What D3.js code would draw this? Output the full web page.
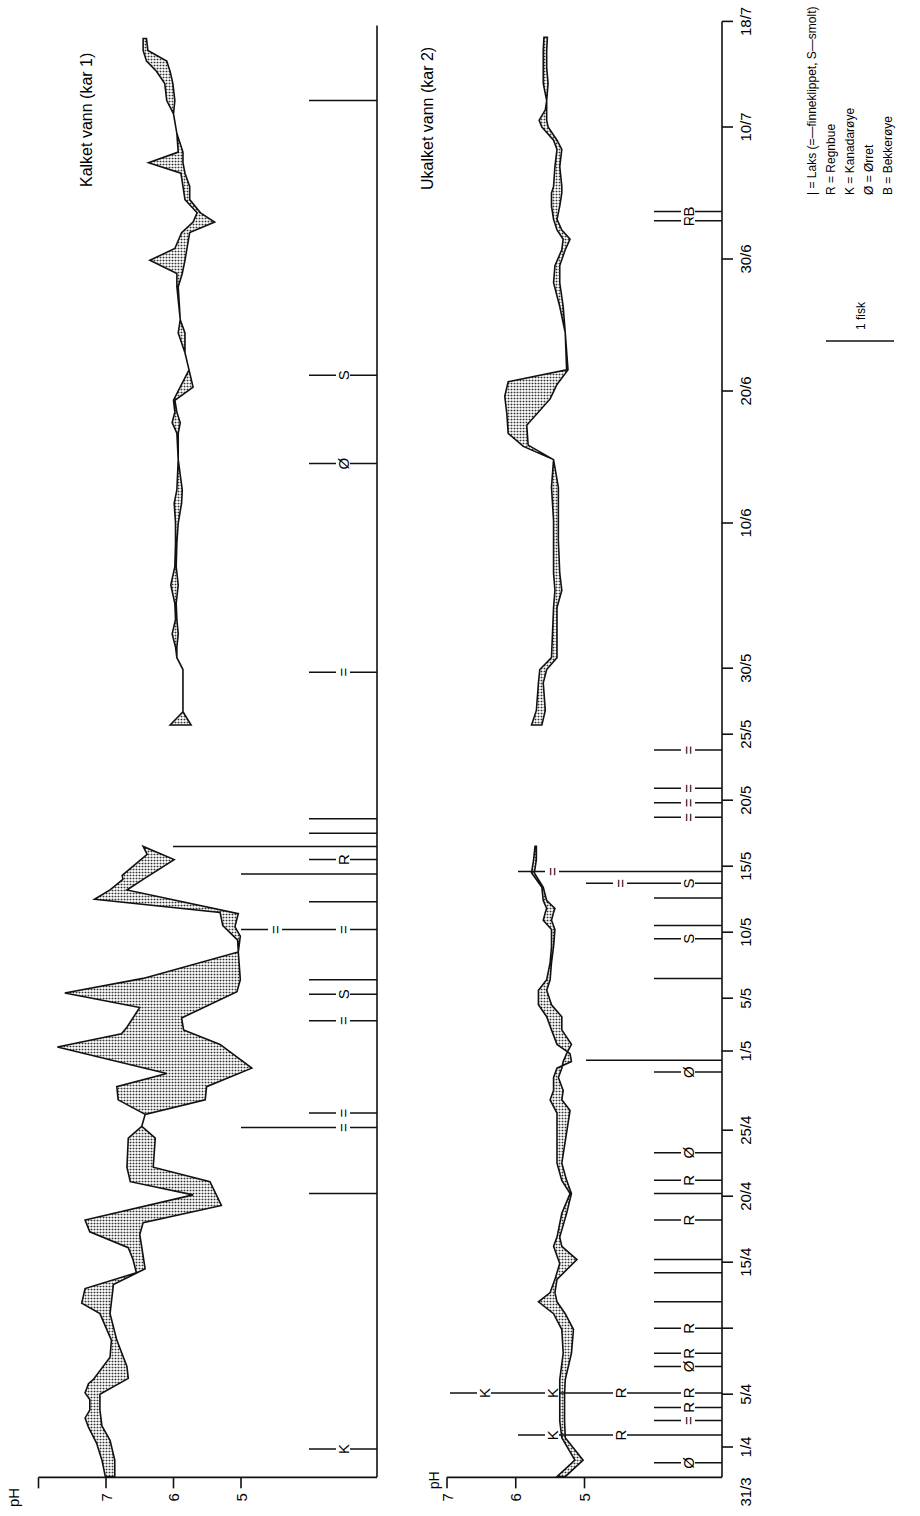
<!DOCTYPE html>
<html><head><meta charset="utf-8">
<script src="https://cdn.jsdelivr.net/npm/d3@7"></script>
<style>body{margin:0;background:#fff}svg{display:block}</style>
</head><body>
<svg id="c" width="920" height="1516"></svg>
<script>
// ---------- DATA (days counted from 31/3) ----------
const dateTickDays   = [0, 1, 5, 10, 15, 20, 25, 31, 35, 40, 45, 50, 55, 60, 71, 81, 91, 101, 109];
const dateTickLabels = ["31/3","1/4","5/4","","15/4","20/4","25/4","1/5","5/5","10/5","15/5","20/5","25/5","30/5","10/6","20/6","30/6","10/7","18/7"];
const pHTicks1 = [8, 7, 6, 5];
const pHTickLabels1 = ["", "7", "6", "5"];
const pHTicks2 = [7, 6, 5];
const pHTickLabels2 = ["7", "6", "5"];

// Kar 1 (kalket vann) – upper and lower pH envelope, [day, pH]
const kar1UpperA = [[-1.25,7.01],[0,7.06],[1.3,7.14],[2.5,7.26],[3.2,7.31],[3.8,7.24],[4.6,7.24],[5.1,7.31],[5.8,7.26],[6.1,7.19],[7.8,6.94],[9.1,6.92],[11.1,7.09],[11.9,7.36],[13.0,7.31],[14.2,6.55],[15.2,6.6],[16.1,6.67],[17.3,7.24],[18.2,7.31],[20.1,5.71],[21.1,6.64],[22.2,6.69],[24.4,6.67],[25.3,6.47],[26.2,6.42],[27.3,6.82],[28.3,6.84],[29.3,6.1],[31.3,7.72],[32.3,6.77],[32.8,6.69],[34.3,6.5],[35.4,7.61],[36.5,6.45],[38.5,5.04],[39.4,5.05],[40.5,5.27],[41.5,5.31],[42.5,7.17],[43.2,6.94],[44.0,6.75],[44.3,6.76],[45.9,6.39],[46.5,6.45]];
const kar1LowerA = [[-1.25,6.87],[0,6.87],[1.5,6.94],[2.6,7.06],[3.8,7.09],[5.0,7.09],[6.2,6.67],[7.1,6.69],[9.1,6.84],[11.1,6.94],[13.3,6.89],[14.5,6.42],[17.1,6.5],[18.0,6.45],[19.3,5.29],[21.1,5.46],[22.2,6.3],[24.4,6.27],[25.3,6.47],[26.2,6.42],[27.3,5.53],[28.3,5.51],[29.7,4.84],[31.5,5.31],[32.6,5.85],[33.5,5.88],[35.5,5.06],[36.4,5.01],[38.5,5.04],[39.7,5.01],[40.4,5.09],[41.4,5.04],[43.2,6.69],[44.0,6.45],[45.5,5.99],[46.5,6.45]];
const kar1UpperB = [[55.7,6.05],[56.7,5.86],[59.9,5.86],[60.8,5.95],[61.6,5.97],[62.6,6.02],[63.7,5.97],[64.9,5.98],[66.3,6.04],[67.7,5.98],[69.5,5.97],[71.0,5.97],[72.5,5.99],[73.5,5.95],[75.8,5.93],[77.8,5.95],[78.6,6.02],[79.4,5.98],[80.3,6.0],[82.6,5.77],[83.9,5.83],[85.4,5.93],[86.4,5.9],[88.9,5.95],[89.9,5.95],[90.9,6.35],[91.8,5.98],[93.0,5.88],[93.8,5.71],[94.5,5.65],[95.5,5.83],[96.5,5.86],[97.5,5.89],[98.3,6.37],[99.1,5.93],[100.5,5.95],[102.0,6.0],[103.0,6.1],[104.3,6.13],[105.2,6.25],[106.0,6.4],[106.8,6.45],[107.7,6.45]];
const kar1LowerB = [[55.7,5.74],[56.7,5.86],[59.9,5.86],[60.8,5.95],[61.6,5.95],[62.6,5.93],[63.7,5.95],[64.9,5.96],[66.3,5.93],[67.7,5.96],[69.5,5.95],[71.0,5.93],[72.5,5.88],[73.5,5.87],[75.8,5.93],[77.8,5.93],[78.6,5.9],[79.4,5.95],[80.3,5.98],[81.3,5.71],[82.6,5.77],[83.9,5.83],[85.4,5.83],[86.4,5.9],[88.9,5.93],[89.9,5.87],[90.9,5.83],[91.8,5.8],[93.0,5.76],[93.8,5.39],[94.5,5.6],[95.5,5.76],[96.5,5.76],[97.5,5.83],[98.3,5.86],[99.1,5.86],[100.5,5.95],[102.0,6.0],[103.0,5.98],[104.3,6.01],[105.2,6.05],[106.0,6.1],[106.8,6.38],[107.7,6.4]];

// Kar 2 (ukalket vann)
const kar2UpperA = [[-1.25,5.40],[0,5.14],[1.7,5.33],[3,5.36],[5,5.36],[6.1,5.36],[8.1,5.31],[9.9,5.33],[11.1,5.45],[12.0,5.67],[12.7,5.50],[13.7,5.43],[14.9,5.36],[16.2,5.45],[16.9,5.40],[18.7,5.33],[20.2,5.21],[21.2,5.33],[22.5,5.40],[26.3,5.40],[27.3,5.50],[28.0,5.45],[29.0,5.45],[29.7,5.40],[30.2,5.19],[30.8,5.21],[31.5,5.40],[32.6,5.48],[33.6,5.55],[34.5,5.67],[35.6,5.67],[36.4,5.55],[37.7,5.50],[38.9,5.48],[40.2,5.48],[40.9,5.60],[41.5,5.57],[41.8,5.55],[42.4,5.60],[43.4,5.62],[44.5,5.77],[45.5,5.74],[46.5,5.72]];
const kar2LowerA = [[-1.25,5.28],[0,5.02],[1.7,5.28],[3,5.29],[5,5.29],[6.1,5.28],[8.1,5.19],[9.9,5.16],[11.1,5.28],[12.0,5.40],[12.7,5.43],[13.7,5.40],[15.2,5.11],[16.2,5.33],[16.9,5.36],[18.7,5.26],[20.2,5.19],[21.2,5.26],[22.5,5.33],[26.5,5.21],[27.3,5.33],[28.0,5.31],[29.0,5.38],[29.7,5.33],[30.2,5.31],[30.8,5.26],[31.5,5.19],[32.6,5.33],[33.6,5.33],[34.5,5.48],[35.6,5.55],[36.4,5.50],[37.7,5.48],[38.9,5.45],[40.2,5.43],[40.9,5.48],[41.5,5.45],[41.8,5.43],[42.4,5.55],[43.4,5.60],[44.5,5.73],[45.5,5.70],[46.5,5.70]];
const kar2UpperB = [[55.7,5.77],[56.8,5.70],[58.9,5.67],[59.9,5.65],[60.8,5.48],[64.6,5.45],[65.9,5.43],[67.2,5.45],[69.7,5.45],[71.2,5.45],[73.7,5.48],[75.8,5.45],[76.8,5.89],[77.8,6.11],[79.3,6.13],[80.6,6.16],[81.7,6.11],[82.6,5.26],[85.4,5.28],[87.4,5.36],[89.2,5.45],[90.5,5.43],[91.7,5.33],[92.5,5.31],[93.2,5.40],[94.0,5.45],[95.0,5.48],[96.0,5.48],[96.5,5.45],[98.0,5.43],[99.3,5.40],[100.0,5.45],[101.0,5.62],[101.5,5.66],[102.3,5.57],[103.0,5.55],[104.3,5.60],[105.5,5.60],[106.8,5.60],[107.8,5.59]];
const kar2LowerB = [[55.7,5.62],[56.8,5.57],[58.9,5.60],[59.9,5.55],[60.8,5.40],[64.6,5.40],[65.9,5.33],[67.2,5.36],[69.7,5.38],[71.2,5.38],[73.7,5.38],[75.8,5.45],[76.9,5.82],[78.4,5.84],[80.4,5.50],[81.5,5.40],[82.6,5.24],[85.4,5.28],[87.4,5.31],[89.2,5.36],[90.5,5.36],[91.7,5.28],[92.5,5.21],[93.2,5.33],[94.0,5.40],[95.0,5.36],[96.0,5.33],[96.5,5.33],[98.0,5.36],[99.3,5.33],[100.0,5.40],[101.0,5.53],[101.5,5.55],[102.3,5.55],[103.0,5.55],[104.3,5.53],[105.5,5.55],[106.8,5.55],[107.8,5.54]];

// Fish deaths: day and one symbol per fish ("-" = laks, "=" finneklippet laks, S smolt, R regnbue, K kanadarøye, Ø ørret, B bekkerøye)
const fish1Days  = [0.85, 20.2, 25.2, 26.3, 33.3, 35.3, 36.4, 40.2, 42.3, 44.4, 45.5, 46.5, 47.5, 48.6, 59.7, 75.5, 82.2, 103.0];
const fish1Codes = ["K", "-", "=-", "=", "=", "S", "-", "==", "-", "--", "R", "---", "-", "-", "=", "Ø", "S", "-"];
const fish2Days  = [-0.2, 1.9, 3.0, 4.0, 5.1, 7.1, 8.1, 10.0, 12.0, 14.2, 15.2, 18.2, 20.2, 21.2, 23.3, 29.4, 30.3, 36.5, 39.5, 40.5, 42.6, 43.7, 44.6, 48.7, 49.8, 50.9, 53.8, 93.9, 94.6];
const fish2Codes = ["Ø", "-RK", "=", "R", "RRKK", "Ø", "R", "R", "-", "-", "-", "R", "-", "R", "Ø", "Ø", "--", "-", "S", "-", "-", "S=", "--=", "=", "=", "=", "=", "R", "B"];

const legendLines = ["| = Laks  (=—finneklippet, S—smolt)", "R = Regnbue", "K = Kanadarøye", "Ø = Ørret", "B = Bekkerøye"];
const titles = ["Kalket vann (kar 1)", "Ukalket vann (kar 2)"];

// ---------- DRAWING ----------
const svg = d3.select("#c");
const defs = svg.append("defs");
const pat = defs.append("pattern").attr("id","dots").attr("width",3).attr("height",3).attr("patternUnits","userSpaceOnUse");
pat.append("rect").attr("width",3).attr("height",3).attr("fill","#fff");
pat.append("circle").attr("cx",1.5).attr("cy",1.5).attr("r",0.9).attr("fill","#333");

// landscape frame: u (date) to the right, v (pH) downward, rotated onto the portrait page
const g = svg.append("g").attr("transform","translate(0,1516) rotate(-90)");
const FONT = "'Liberation Sans Narrow','Liberation Sans',Arial,sans-serif";
const FONT2 = "'Liberation Sans',Arial,sans-serif";

const axisStartDay = -1.3;
const x  = d3.scaleLinear().domain([0, 109]).range([55.8, 1494.6]);
const y1 = d3.scaleLinear().domain([8, 3]).range([38.5, 376]);
const y2 = d3.scaleLinear().domain([7, 3]).range([447, 722]);
const uAxis = x(axisStartDay);
const FISH = 68;

function band(upper, lower, ys) {
  const pts = upper.map(p => [x(p[0]), ys(p[1])]).concat(lower.slice().reverse().map(p => [x(p[0]), ys(p[1])]));
  g.append("path").attr("d", d3.line()(pts) + "Z")
    .attr("fill","url(#dots)").attr("stroke","#111").attr("stroke-width",1.6).attr("stroke-linejoin","miter");
}
band(kar1UpperA, kar1LowerA, y1);
band(kar1UpperB, kar1LowerB, y1);
band(kar2UpperA, kar2LowerA, y2);
band(kar2UpperB, kar2LowerB, y2);

// pH axes
function phAxis(ys, ticks, labels, v0, v1) {
  g.append("line").attr("x1",uAxis).attr("x2",uAxis).attr("y1",v0).attr("y2",v1).attr("stroke","#111").attr("stroke-width",1.6);
  ticks.forEach((t,i) => {
    g.append("line").attr("x1",uAxis).attr("x2",uAxis-11).attr("y1",ys(t)).attr("y2",ys(t)).attr("stroke","#111").attr("stroke-width",1.6);
    if (labels[i]) g.append("text").attr("x",uAxis-20).attr("y",ys(t)).attr("text-anchor","middle").attr("dominant-baseline","central")
      .attr("font-family",FONT).attr("font-size",15).text(labels[i]);
  });
}
phAxis(y1, pHTicks1, pHTickLabels1, y1(8), 377);
phAxis(y2, pHTicks2, pHTickLabels2, y2(7), y2(3));
g.append("text").attr("x",uAxis-20).attr("y",13).attr("text-anchor","middle").attr("dominant-baseline","central").attr("font-family",FONT).attr("font-size",15).text("pH");
g.append("text").attr("x",uAxis-3).attr("y",434).attr("text-anchor","middle").attr("dominant-baseline","central").attr("font-family",FONT).attr("font-size",14).text("pH");

// date lines
g.append("line").attr("x1",uAxis).attr("x2",x(109)-4).attr("y1",377).attr("y2",377).attr("stroke","#111").attr("stroke-width",1.6);
g.append("line").attr("x1",uAxis).attr("x2",x(109)).attr("y1",722).attr("y2",722).attr("stroke","#111").attr("stroke-width",1.6);
dateTickDays.forEach((d,i) => {
  const u = i === 0 ? uAxis : x(d);
  if (i > 0) g.append("line").attr("x1",u).attr("x2",u).attr("y1",722).attr("y2",733).attr("stroke","#111").attr("stroke-width",1.6);
  if (dateTickLabels[i]) g.append("text").attr("x", u).attr("y",745)
    .attr("text-anchor", i === 0 ? "end" : "middle").attr("dominant-baseline","central")
    .attr("font-family",FONT).attr("font-size",15).text(dateTickLabels[i]);
});

// fish lines
function fish(days, codes, vAxis) {
  days.forEach((d,i) => {
    const n = codes[i].length, u = x(d);
    g.append("line").attr("x1",u).attr("x2",u).attr("y1",vAxis).attr("y2",vAxis - n*FISH).attr("stroke","#111").attr("stroke-width",1.5);
    [...codes[i]].forEach((c,k) => {
      if (c === "-") return;
      const v = vAxis - (k+0.5)*FISH;
      g.append("rect").attr("x",u-6).attr("y",v-7).attr("width",12).attr("height",14).attr("fill","#fff");
      g.append("text").attr("x",u).attr("y",v).attr("text-anchor","middle").attr("dominant-baseline","central")
        .attr("font-family",FONT).attr("font-size",15).text(c);
    });
  });
}
fish(fish1Days, fish1Codes, 377);
fish(fish2Days, fish2Codes, 722);

// titles
g.append("text").attr("x",1329).attr("y",86).attr("dominant-baseline","central").attr("font-family",FONT2).attr("font-size",16).text(titles[0]);
g.append("text").attr("x",1326).attr("y",427).attr("dominant-baseline","central").attr("font-family",FONT2).attr("font-size",16).text(titles[1]);

// legend
legendLines.forEach((t,i) => {
  g.append("text").attr("x",1321).attr("y",812 + i*19).attr("dominant-baseline","central")
    .attr("font-family",FONT2).attr("font-size",12).text(t);
});
g.append("text").attr("x",1186).attr("y",861).attr("dominant-baseline","central").attr("font-family",FONT2).attr("font-size",12).text("1 fisk");
g.append("line").attr("x1",1175).attr("x2",1175).attr("y1",826).attr("y2",826+FISH).attr("stroke","#111").attr("stroke-width",1.6);
</script>
</body></html>
